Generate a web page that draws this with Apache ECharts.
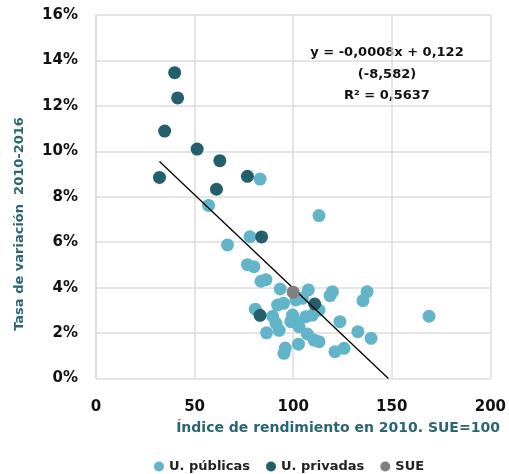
<!DOCTYPE html>
<html><head><meta charset="utf-8">
<script src="https://cdn.jsdelivr.net/npm/echarts@6/dist/echarts.min.js"></script>
<style>html,body{margin:0;padding:0;background:#fff}#c{width:509px;height:474px}</style>
</head><body><div id="c"></div>
<script>
// U. públicas: [índice 2010, tasa variación %]
var publicas = [
  [83.2, 8.78], [57.1, 7.62], [78.1, 6.24], [113.1, 7.17], [66.7, 5.88],
  [76.8, 5.01], [80.1, 4.92], [83.7, 4.28], [86.2, 4.35], [93.4, 3.94],
  [107.7, 3.90], [119.9, 3.82], [118.7, 3.65], [137.5, 3.82], [135.4, 3.43],
  [92.1, 3.23], [95.1, 3.31], [104.7, 3.53], [101.3, 3.46], [113.1, 3.01],
  [80.8, 3.05], [89.6, 2.74], [91.3, 2.43], [92.9, 2.12], [86.5, 2.01],
  [99.7, 2.79], [101.3, 2.50], [98.8, 2.50], [103.0, 2.28], [106.4, 2.72],
  [109.8, 2.79], [123.7, 2.50], [132.8, 2.06], [139.5, 1.77], [168.9, 2.74],
  [107.2, 1.96], [110.6, 1.69], [113.1, 1.62], [102.7, 1.51], [96.0, 1.34],
  [95.3, 1.11], [121.2, 1.18], [125.8, 1.33]
];
// U. privadas
var privadas = [
  [39.9, 13.46], [41.4, 12.35], [34.8, 10.89], [51.3, 10.10], [62.8, 9.59],
  [32.2, 8.85], [76.8, 8.90], [61.1, 8.33], [84.0, 6.23], [83.2, 2.78],
  [110.9, 3.28]
];
// SUE
var sue = [[100, 3.80]];
// Recta de regresión (extremos)
var tendencia = [[32.2, 9.55], [148.3, 0]];
var xTicks = [0, 50, 100, 150, 200];
var yTicks = [0, 2, 4, 6, 8, 10, 12, 14, 16];
var ecuacion = ['y = -0,0008x + 0,122', '(-8,582)', 'R² = 0,5637'];
var tituloX = 'Índice de rendimiento en 2010. SUE=100';
var tituloY = 'Tasa de variación  2010-2016';

var FONT = '"DejaVu Sans"';
var chart = echarts.init(document.getElementById('c'), null, {renderer: 'canvas'});
chart.setOption({
  animation: false,
  textStyle: {fontFamily: FONT},
  grid: {left: 96, right: 17, top: 15, bottom: 95.5},
  xAxis: {
    type: 'value', min: xTicks[0], max: xTicks[xTicks.length - 1], interval: 50,
    axisLine: {show: false}, axisTick: {show: false},
    splitLine: {show: true, lineStyle: {color: '#dcdcdc', width: 1.5}},
    axisLabel: {margin: 21, fontSize: 15, fontWeight: 'bold', color: '#111', fontFamily: FONT}
  },
  yAxis: {
    type: 'value', min: yTicks[0], max: yTicks[yTicks.length - 1], interval: 2,
    axisLine: {show: true, lineStyle: {color: '#dcdcdc', width: 1.5}}, axisTick: {show: false},
    splitLine: {show: true, lineStyle: {color: '#dcdcdc', width: 1.5}},
    axisLabel: {margin: 18, fontSize: 15, fontWeight: 'bold', color: '#111', fontFamily: FONT,
      formatter: function (v) { return v + '%'; }}
  },
  legend: {
    top: 455, left: 149, itemGap: 16, itemWidth: 10, itemHeight: 10,
    textStyle: {fontSize: 13, fontWeight: 'bold', color: '#222', fontFamily: FONT},
    data: [{name: 'U. públicas', icon: 'circle'}, {name: 'U. privadas', icon: 'circle'}, {name: 'SUE', icon: 'circle'}]
  },
  graphic: [
    {type: 'text', style: {x: 338, y: 421, text: tituloX, fill: '#2a6572',
      textAlign: 'center', font: 'bold 14px ' + FONT}},
    {type: 'text', x: 20, y: 224, rotation: Math.PI / 2, style: {x: 0, y: 0, text: tituloY, fill: '#2a6572',
      textAlign: 'center', textVerticalAlign: 'middle', font: 'bold 13px ' + FONT}},
    {type: 'text', style: {x: 387, y: 42, text: ecuacion.join('\n'), fill: '#111', textAlign: 'center',
      font: 'bold 13px ' + FONT, lineHeight: 21.5}}
  ],
  series: [
    {name: 'tendencia', type: 'line', data: tendencia, symbol: 'none', silent: true,
      lineStyle: {color: '#000', width: 1.3}, z: 5},
    {name: 'U. públicas', type: 'scatter', data: publicas, symbolSize: 13,
      itemStyle: {color: '#62b5c8', opacity: 1}, z: 3},
    {name: 'U. privadas', type: 'scatter', data: privadas, symbolSize: 13,
      itemStyle: {color: '#245f6c', opacity: 1}, z: 4},
    {name: 'SUE', type: 'scatter', data: sue, symbolSize: 13,
      itemStyle: {color: '#808080', opacity: 1}, z: 6}
  ]
});
</script></body></html>
